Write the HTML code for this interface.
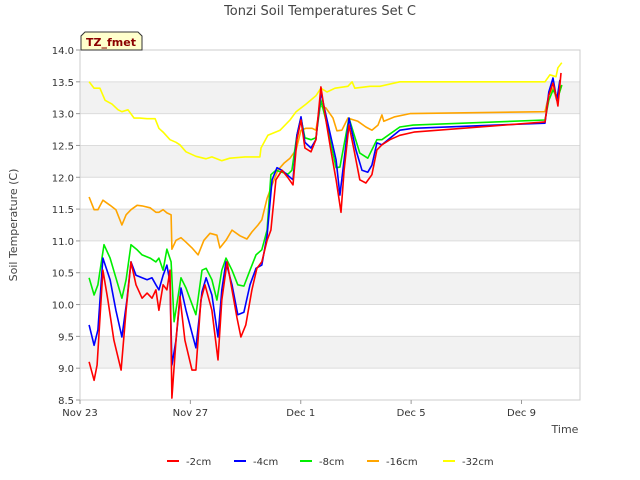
<!DOCTYPE html>
<html><head><meta charset="utf-8"><style>
body{margin:0;background:#fff;}
svg{display:block;font-family:"DejaVu Sans","Liberation Sans",sans-serif;}
</style></head><body>
<svg id="chart" width="640" height="480" viewBox="0 0 640 480" xmlns="http://www.w3.org/2000/svg">
<rect x="0" y="0" width="640" height="480" fill="#fff"/>
<text x="320" y="15" text-anchor="middle" font-size="13" fill="#444">Tonzi Soil Temperatures Set C</text>
<g id="bands"></g>
<g id="grid"></g>
<g id="series"></g>
<g id="axes"></g>
<text transform="translate(17,225) rotate(-90)" text-anchor="middle" font-size="11" fill="#444">Soil Temperature (C)</text>
<text x="565" y="433" text-anchor="middle" font-size="11" fill="#444">Time</text>
<g>
<path d="M81,50 L81,36 L85,32 L138,32 L142,36 L142,50 Z" fill="#ffffcc" stroke="#333" stroke-width="1"/>
<text x="111" y="46" text-anchor="middle" font-size="11" font-weight="bold" fill="#8b0000">TZ_fmet</text>
</g>
<g id="legend"></g>
</svg>
<script>
const xTickVals=[0,4,8,12,16];
const xTickLabels=["Nov 23","Nov 27","Dec 1","Dec 5","Dec 9"];
const yTickVals=[8.5,9.0,9.5,10.0,10.5,11.0,11.5,12.0,12.5,13.0,13.5,14.0];
const seriesNames=["-2cm","-4cm","-8cm","-16cm","-32cm"];
const seriesColors=["#ff0000","#0000ff","#00ee00","#ffa500","#ffff00"];
const t2=[0.33,0.51,0.62,0.83,1.01,1.23,1.49,1.67,1.85,2.03,2.25,2.43,2.61,2.75,2.86,3.01,3.15,3.26,3.33,3.48,3.62,3.80,4.06,4.20,4.38,4.53,4.78,5.0,5.14,5.33,5.51,5.69,5.83,6.01,6.23,6.41,6.59,6.78,6.92,7.10,7.32,7.54,7.72,7.86,8.01,8.15,8.37,8.55,8.73,8.91,9.09,9.28,9.46,9.57,9.75,9.93,10.14,10.36,10.58,10.76,10.94,11.23,11.59,12.10,16.85,16.99,17.14,17.25,17.32,17.39,17.43];
const v2=[9.10,8.81,9.05,10.54,10.07,9.44,8.97,9.91,10.67,10.31,10.10,10.18,10.10,10.23,9.91,10.31,10.23,10.54,8.53,9.44,10.13,9.44,8.97,8.97,10.07,10.31,9.91,9.13,10.07,10.67,10.23,9.79,9.49,9.68,10.23,10.57,10.67,11.01,11.17,11.96,12.11,11.99,11.88,12.59,12.90,12.46,12.40,12.59,13.42,12.90,12.43,11.96,11.45,12.11,12.82,12.43,11.96,11.91,12.04,12.43,12.51,12.59,12.66,12.71,12.87,13.29,13.48,13.29,13.12,13.45,13.64];
const t4=[0.33,0.51,0.65,0.83,1.09,1.30,1.52,1.70,1.85,2.03,2.25,2.43,2.61,2.75,2.86,3.01,3.15,3.26,3.33,3.48,3.66,3.84,4.20,4.42,4.57,4.78,5.0,5.14,5.29,5.51,5.72,5.94,6.16,6.38,6.59,6.78,6.96,7.14,7.32,7.72,7.86,8.01,8.15,8.37,8.55,8.73,8.91,9.28,9.42,9.57,9.75,10.0,10.22,10.43,10.58,10.76,10.94,11.59,12.07,16.85,16.99,17.14,17.28,17.39];
const v4=[9.68,9.36,9.60,10.73,10.39,9.91,9.49,10.07,10.67,10.46,10.42,10.39,10.42,10.31,10.23,10.46,10.62,10.35,9.05,9.44,10.26,9.91,9.32,10.20,10.42,10.15,9.49,10.23,10.67,10.31,9.84,9.88,10.31,10.57,10.62,11.09,11.96,12.15,12.11,11.96,12.66,12.95,12.55,12.46,12.59,13.34,12.98,12.27,11.72,12.27,12.93,12.43,12.11,12.08,12.19,12.54,12.51,12.74,12.77,12.85,13.34,13.56,13.21,13.53];
const t8=[0.33,0.51,0.65,0.87,1.09,1.30,1.52,1.67,1.85,2.07,2.25,2.54,2.75,2.86,3.01,3.15,3.30,3.41,3.66,3.84,4.20,4.42,4.57,4.78,4.96,5.14,5.29,5.51,5.72,5.94,6.16,6.38,6.59,6.78,6.92,7.10,7.32,7.54,7.68,7.86,8.01,8.15,8.37,8.55,8.73,8.91,9.28,9.42,9.75,10.14,10.43,10.76,10.94,11.59,12.07,16.85,16.99,17.14,17.32,17.46];
const v8=[10.42,10.15,10.31,10.94,10.73,10.42,10.10,10.39,10.94,10.86,10.78,10.73,10.67,10.73,10.54,10.87,10.67,9.73,10.42,10.26,9.84,10.54,10.57,10.39,10.07,10.54,10.73,10.54,10.31,10.29,10.54,10.78,10.86,11.17,12.04,12.11,12.08,12.05,12.11,12.66,12.93,12.62,12.59,12.62,13.21,12.90,12.15,12.16,12.93,12.38,12.30,12.59,12.59,12.79,12.82,12.90,13.21,13.37,13.25,13.45];
const t16=[0.33,0.51,0.65,0.83,1.09,1.30,1.52,1.67,1.85,2.07,2.25,2.54,2.75,2.86,3.01,3.15,3.30,3.33,3.48,3.66,3.84,4.06,4.28,4.49,4.71,4.96,5.07,5.29,5.51,5.80,6.05,6.23,6.45,6.59,6.78,6.96,7.17,7.39,7.61,7.83,8.01,8.19,8.41,8.55,8.70,8.91,9.17,9.31,9.49,9.71,10.07,10.36,10.58,10.80,10.94,11.01,11.41,11.96,16.85,16.99,17.14,17.28,17.46];
const v16=[11.69,11.49,11.49,11.64,11.56,11.49,11.25,11.41,11.49,11.56,11.55,11.52,11.45,11.45,11.49,11.44,11.41,10.87,11.01,11.05,10.98,10.89,10.78,11.01,11.12,11.09,10.89,11.01,11.17,11.08,11.03,11.14,11.25,11.33,11.67,11.88,12.11,12.22,12.30,12.43,12.74,12.77,12.77,12.74,13.12,13.09,12.93,12.73,12.74,12.93,12.88,12.79,12.74,12.82,12.98,12.88,12.95,13.0,13.03,13.29,13.40,13.21,13.45];
const t32=[0.33,0.51,0.72,0.91,1.16,1.38,1.52,1.74,1.96,2.17,2.43,2.72,2.86,3.01,3.26,3.48,3.62,3.84,4.20,4.57,4.78,5.14,5.43,5.98,6.52,6.56,6.81,7.25,7.61,7.83,8.19,8.55,8.73,8.95,9.24,9.71,9.86,9.96,10.51,10.87,11.59,11.96,16.85,17.03,17.25,17.32,17.46];
const v32=[13.50,13.40,13.40,13.21,13.15,13.06,13.03,13.06,12.93,12.93,12.92,12.92,12.77,12.71,12.59,12.55,12.51,12.40,12.33,12.29,12.32,12.26,12.30,12.32,12.32,12.46,12.66,12.74,12.90,13.03,13.15,13.28,13.40,13.34,13.40,13.43,13.50,13.40,13.43,13.43,13.50,13.50,13.50,13.61,13.58,13.72,13.80];

const L=80,R=580,T=50,B=400,xMin=0,xMax=18.12,yMin=8.5,yMax=14.0;
function xs(t){return L+(t-xMin)/(xMax-xMin)*(R-L);}
function ys(v){return B-(v-yMin)/(yMax-yMin)*(B-T);}
const NS="http://www.w3.org/2000/svg";
function mk(tag,attrs,parent){const e=document.createElementNS(NS,tag);for(const k in attrs)e.setAttribute(k,attrs[k]);parent.appendChild(e);return e;}
const bands=document.getElementById('bands'),grid=document.getElementById('grid'),axes=document.getElementById('axes'),ser=document.getElementById('series'),leg=document.getElementById('legend');
for(let i=0;i<yTickVals.length-1;i++){
  if(i%2===1){const r=mk('rect',{x:L,y:ys(yTickVals[i+1]),width:R-L,height:ys(yTickVals[i])-ys(yTickVals[i+1]),fill:'#f2f2f2'},bands);
  
  }
}
yTickVals.forEach(v=>{
  const l=mk('line',{x1:L,x2:R,y1:ys(v),y2:ys(v),stroke:'#dcdcdc','stroke-width':1},grid);
  
  
  const tk=mk('line',{x1:L-4,x2:L,y1:ys(v),y2:ys(v),stroke:'#999'},axes);
  
  
  const tx=mk('text',{x:L-6,y:ys(v)+4,'text-anchor':'end','font-size':10,fill:'#333'},axes);
  tx.textContent=v.toFixed(1);
  
  
});
mk('rect',{x:L,y:T,width:R-L,height:B-T,fill:'none',stroke:'#ccc'},grid);
xTickVals.forEach((t,i)=>{
  const tk=mk('line',{x1:xs(t),x2:xs(t),y1:B,y2:B+4,stroke:'#999'},axes);
  
  
  const tx=mk('text',{x:xs(t),y:B+16,'text-anchor':'middle','font-size':10,fill:'#333'},axes);
  tx.textContent=xTickLabels[i];
  
  
});
const allT=[t2,t4,t8,t16,t32],allV=[v2,v4,v8,v16,v32];
const order=[4,3,2,1,0];
order.forEach(s=>{
  const d=allT[s].map((t,i)=>(i?'L':'M')+xs(t).toFixed(1)+','+ys(allV[s][i]).toFixed(1)).join(' ');
  const p=mk('path',{d:d,fill:'none',stroke:seriesColors[s],'stroke-width':1.6,'stroke-linejoin':'round'},ser);
  
  
});
const legX=[167,234,300,367,443];
seriesNames.forEach((n,i)=>{
  const g=mk('g',{},leg);
  
  
  mk('line',{x1:legX[i],x2:legX[i]+12,y1:461,y2:461,stroke:seriesColors[i],'stroke-width':2},g);
  const tx=mk('text',{x:legX[i]+19,y:465,'font-size':10,fill:'#333'},g);
  tx.textContent=n;
});
</script>
</body></html>
